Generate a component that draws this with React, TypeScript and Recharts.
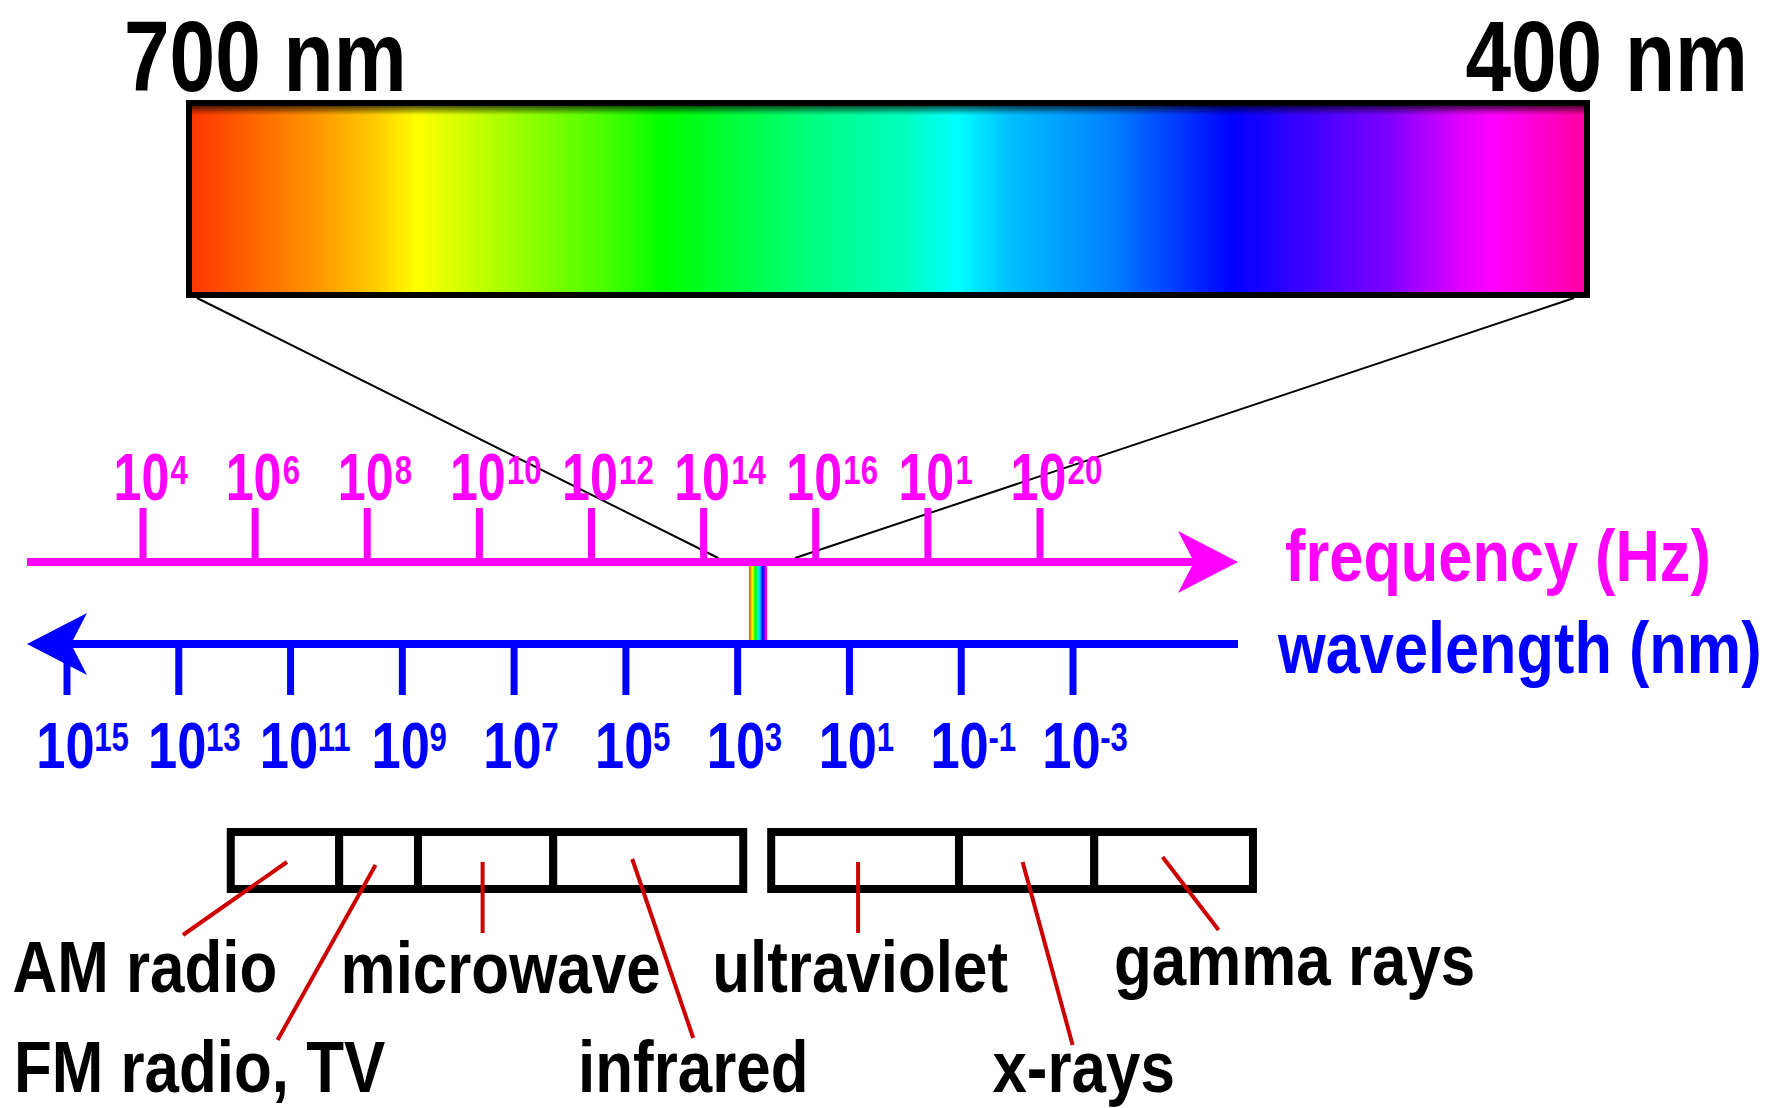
import React from 'react';
import { ComposedChart, XAxis, YAxis, Scatter, ReferenceLine, ReferenceArea } from 'recharts';

const W = 1777;
const H = 1108;

// frequency axis ticks, log10(Hz)
const FREQ_EXP = [4, 6, 8, 10, 12, 14, 16, 18, 20];
const FREQ_SUP = ['4', '6', '8', '10', '12', '14', '16', '1', '20'];

// wavelength axis ticks, log10(nm)
const WAVE_EXP = [15, 13, 11, 9, 7, 5, 3, 1, -1, -3];
const WAVE_SUP = ['15', '13', '11', '9', '7', '5', '3', '1', '-1', '-3'];

// visible light, nm
const VISIBLE_NM = [700, 400];
const SPECTRUM_NM = [700, 686, 672, 660, 651, 640, 629, 610, 598, 566, 546, 535, 524, 502, 476, 442, 427, 420, 400];
const SPECTRUM_COLORS = [
  '#ff3300', '#ff6600', '#ff9900', '#ffcc00', '#ffff00', '#ccff00', '#99ff00', '#44ff00', '#00ff00',
  '#00ff80', '#00ffc0', '#00ffff', '#00c0ff', '#0080ff', '#0000ff', '#8000ff', '#e000ff', '#ff00ff', '#ff00a0',
];

// regions, log10(nm) on the wavelength axis
const BAND_NAMES = ['AM radio', 'FM radio, TV', 'microwave', 'infrared', 'ultraviolet', 'x-rays', 'gamma rays'];
const BAND_FROM = [12.07, 10.13, 8.72, 6.3, 2.4, -0.96, -3.38];
const BAND_TO = [10.13, 8.72, 6.3, 2.9, -0.96, -3.38, -6.22];

// --- layout ---
const MAGENTA = '#ff00ff';
const BLUE = '#0000ff';
const LEADER = '#cc0000';
const FONT = "'Liberation Sans', Arial, Helvetica, sans-serif";

// leader start dx/y, end dx/y, label dx/baseline (px, from band centre)
const BAND_LAYOUT = [
  { sdx: 2, sy: 862, edx: -102, ey: 935, ldx: -140, ly: 992 },
  { sdx: -3, sy: 865, edx: -101, ey: 1040, ldx: -179, ly: 1092 },
  { sdx: -3, sy: 862, edx: -3, ey: 933, ldx: 15, ly: 993 },
  { sdx: -16, sy: 859, edx: 45, ey: 1038, ldx: 45, ly: 1092 },
  { sdx: -7, sy: 862, edx: -7, ey: 933, ldx: -5, ly: 992 },
  { sdx: -4, sy: 862, edx: 46, ey: 1045, ldx: 57, ly: 1092 },
  { sdx: -11, sy: 857, edx: 45, ey: 930, ldx: 121, ly: 985 },
];

const ROW = {
  nmLabel: 91, boxTop: 103, boxBottom: 295, shadeBottom: 115, zoomTop: 298, zoomFoot: 558,
  freqLabel: 500, freqTickTop: 508, freqAxis: 562, stripTop: 566, stripBottom: 640,
  waveAxis: 644, waveTickBottom: 695, waveLabel: 768, bandTop: 832, bandBottom: 889,
};
const AXIS_SPAN_PX = [27, 1238];
const ZOOM_FOOT_FREQ = [14.26, 15.63];

function axisFor(v1: number, p1: number, v2: number, p2: number) {
  const k = (v2 - v1) / (p2 - p1);
  const a = v1 - p1 * k;
  const b = v1 + (W - p1) * k;
  return {
    domain: [Math.min(a, b), Math.max(a, b)] as [number, number],
    reversed: a > b,
    toPx: (v: number) => p1 + (v - v1) / k,
    fromPx: (p: number) => v1 + (p - p1) * k,
  };
}
const freqAx = axisFor(4, 143, 20, 1040);
const waveAx = axisFor(15, 67, -3, 1073);
const visAx = axisFor(700, 189, 400, 1587);

function SqText({ x, y, size, sx, fill = '#000', anchor = 'start', children }: any) {
  return (
    <text
      transform={`translate(${x} ${y}) scale(${sx} 1)`}
      fontSize={size}
      fontFamily={FONT}
      fontWeight="bold"
      fill={fill}
      textAnchor={anchor}
    >
      {children}
    </text>
  );
}

function powerLabel(color: string, size: number, sx: number, supSize: number, supDx: number, supDy: number) {
  return (p: any) => {
    const x0 = p.cx - 0.587 * size * sx;
    return (
      <g>
        <SqText x={x0} y={p.cy} size={size} sx={sx} fill={color}>10</SqText>
        <SqText x={x0 + supDx} y={p.cy + supDy} size={supSize} sx={0.78} fill={color}>{p.payload.sup}</SqText>
      </g>
    );
  };
}

function arrowAxis(color: string, dir: number, title: string, tdx: number, tdy: number) {
  return (p: any) => {
    const left = Math.min(p.x1, p.x2);
    const right = Math.max(p.x1, p.x2);
    const y = p.y1;
    const tip = dir > 0 ? right : left;
    const L = 60, hw = 31, notch = 16;
    const pts = [
      [tip, y], [tip - dir * L, y - hw], [tip - dir * (L - notch), y], [tip - dir * L, y + hw],
    ].map((q) => q.join(',')).join(' ');
    const a = dir > 0 ? left : tip - dir * (L - notch);
    const b = dir > 0 ? tip - dir * (L - notch) : right;
    return (
      <g>
        <line x1={a} y1={y} x2={b} y2={y} stroke={color} strokeWidth={8} />
        <polygon points={pts} fill={color} />
        <SqText x={right + tdx} y={y + tdy} size={73} sx={0.84} fill={color}>{title}</SqText>
      </g>
    );
  };
}

const bandShape = (p: any) => (
  <rect x={p.x} y={p.y} width={p.width} height={p.height} fill="#fff" stroke="#000" strokeWidth={8} />
);

// the visible strip is drawn a little wider than its true extent so it can be seen
const stripShape = (p: any) => {
  const c = p.x + p.width / 2 + 5;
  return <rect x={c - 9} y={p.y} width={18} height={p.height} fill="url(#spectrum)" />;
};

export default function App() {
  const freqLabels = FREQ_EXP.map((e, i) => ({ x: e, y: ROW.freqLabel, sup: FREQ_SUP[i] }));
  const waveLabels = WAVE_EXP.map((e, i) => ({ x: e, y: ROW.waveLabel, sup: WAVE_SUP[i] }));
  const nmLabels = VISIBLE_NM.map((nm, i) => ({ x: nm, y: ROW.nmLabel, text: `${nm} nm`, first: i === 0 }));
  const bandCentrePx = BAND_NAMES.map((_, i) => waveAx.toPx((BAND_FROM[i] + BAND_TO[i]) / 2));
  const bandLabels = BAND_NAMES.map((name, i) => ({
    x: waveAx.fromPx(bandCentrePx[i] + BAND_LAYOUT[i].ldx),
    y: BAND_LAYOUT[i].ly,
    text: name,
  }));
  const logVis = VISIBLE_NM.map((nm) => Math.log10(nm));

  return (
    <div style={{ position: 'fixed', left: 0, top: 0, width: W, height: H, background: '#fff' }}>
      <ComposedChart width={W} height={H} margin={{ top: 0, right: 0, bottom: 0, left: 0 }}>
        <defs>
          <linearGradient id="spectrum" x1="0" y1="0" x2="1" y2="0">
            {SPECTRUM_NM.map((nm, i) => (
              <stop key={nm} offset={(700 - nm) / 300} stopColor={SPECTRUM_COLORS[i]} />
            ))}
          </linearGradient>
          <linearGradient id="topShade" x1="0" y1="0" x2="0" y2="1">
            <stop offset={0} stopColor="#000" stopOpacity={0.9} />
            <stop offset={1} stopColor="#000" stopOpacity={0} />
          </linearGradient>
        </defs>

        <XAxis xAxisId="freq" type="number" dataKey="x" domain={freqAx.domain} reversed={freqAx.reversed} allowDataOverflow hide />
        <XAxis xAxisId="wave" type="number" dataKey="x" domain={waveAx.domain} reversed={waveAx.reversed} allowDataOverflow hide />
        <XAxis xAxisId="vis" type="number" dataKey="x" domain={visAx.domain} reversed={visAx.reversed} allowDataOverflow hide />
        <YAxis type="number" dataKey="y" domain={[0, H]} reversed allowDataOverflow hide />

        {/* zoom lines from the spectrum box down to the frequency axis */}
        {VISIBLE_NM.map((nm, i) => (
          <ReferenceLine
            key={`zoom-${nm}`}
            xAxisId="vis"
            segment={[
              { x: visAx.fromPx(visAx.toPx(nm) + (i === 0 ? 8 : -13)), y: ROW.zoomTop },
              { x: visAx.fromPx(freqAx.toPx(ZOOM_FOOT_FREQ[i])), y: ROW.zoomFoot },
            ]}
            stroke="#000"
            strokeWidth={2}
          />
        ))}

        {/* visible spectrum box */}
        <ReferenceArea
          xAxisId="vis"
          x1={VISIBLE_NM[0]}
          x2={VISIBLE_NM[1]}
          y1={ROW.boxTop}
          y2={ROW.boxBottom}
          fill="url(#spectrum)"
          fillOpacity={1}
          stroke="#000"
          strokeWidth={6}
        />
        <ReferenceArea
          xAxisId="vis"
          x1={VISIBLE_NM[0]}
          x2={VISIBLE_NM[1]}
          y1={ROW.boxTop}
          y2={ROW.shadeBottom}
          fill="url(#topShade)"
          fillOpacity={1}
          stroke="none"
        />

        {/* visible strip between the axes */}
        <ReferenceArea
          xAxisId="wave"
          x1={logVis[0]}
          x2={logVis[1]}
          y1={ROW.stripTop}
          y2={ROW.stripBottom}
          fillOpacity={1}
          shape={stripShape}
        />

        {/* frequency axis */}
        <ReferenceLine
          xAxisId="freq"
          segment={[
            { x: freqAx.fromPx(AXIS_SPAN_PX[0]), y: ROW.freqAxis },
            { x: freqAx.fromPx(AXIS_SPAN_PX[1]), y: ROW.freqAxis },
          ]}
          shape={arrowAxis(MAGENTA, 1, 'frequency (Hz)', 47, 19)}
        />
        {FREQ_EXP.map((e) => (
          <ReferenceLine
            key={`ft-${e}`}
            xAxisId="freq"
            segment={[{ x: e, y: ROW.freqTickTop }, { x: e, y: ROW.freqAxis }]}
            stroke={MAGENTA}
            strokeWidth={7}
          />
        ))}

        {/* wavelength axis */}
        <ReferenceLine
          xAxisId="wave"
          segment={[
            { x: waveAx.fromPx(AXIS_SPAN_PX[0]), y: ROW.waveAxis },
            { x: waveAx.fromPx(AXIS_SPAN_PX[1]), y: ROW.waveAxis },
          ]}
          shape={arrowAxis(BLUE, -1, 'wavelength (nm)', 40, 29)}
        />
        {WAVE_EXP.map((e) => (
          <ReferenceLine
            key={`wt-${e}`}
            xAxisId="wave"
            segment={[{ x: e, y: ROW.waveAxis }, { x: e, y: ROW.waveTickBottom }]}
            stroke={BLUE}
            strokeWidth={7}
          />
        ))}

        {/* regions */}
        {BAND_NAMES.map((name, i) => (
          <ReferenceArea
            key={`band-${name}`}
            xAxisId="wave"
            x1={BAND_FROM[i]}
            x2={BAND_TO[i]}
            y1={ROW.bandTop}
            y2={ROW.bandBottom}
            fillOpacity={1}
            shape={bandShape}
          />
        ))}
        {BAND_NAMES.map((name, i) => {
          const l = BAND_LAYOUT[i];
          return (
            <ReferenceLine
              key={`lead-${name}`}
              xAxisId="wave"
              segment={[
                { x: waveAx.fromPx(bandCentrePx[i] + l.sdx), y: l.sy },
                { x: waveAx.fromPx(bandCentrePx[i] + l.edx), y: l.ey },
              ]}
              stroke={LEADER}
              strokeWidth={4}
            />
          );
        })}

        <Scatter
          xAxisId="freq"
          data={freqLabels}
          isAnimationActive={false}
          shape={powerLabel(MAGENTA, 66, 0.76, 40, 57, -16)}
        />
        <Scatter
          xAxisId="wave"
          data={waveLabels}
          isAnimationActive={false}
          shape={powerLabel(BLUE, 64, 0.82, 40, 58, -17)}
        />
        <Scatter
          xAxisId="vis"
          data={nmLabels}
          isAnimationActive={false}
          shape={(p: any) => (
            <SqText
              x={p.cx + (p.payload.first ? -65 : 161)}
              y={p.cy}
              size={100}
              sx={0.82}
              anchor={p.payload.first ? 'start' : 'end'}
            >
              {p.payload.text}
            </SqText>
          )}
        />
        <Scatter
          xAxisId="wave"
          data={bandLabels}
          isAnimationActive={false}
          shape={(p: any) => (
            <SqText x={p.cx} y={p.cy} size={72} sx={0.86} anchor="middle">
              {p.payload.text}
            </SqText>
          )}
        />
      </ComposedChart>
    </div>
  );
}
